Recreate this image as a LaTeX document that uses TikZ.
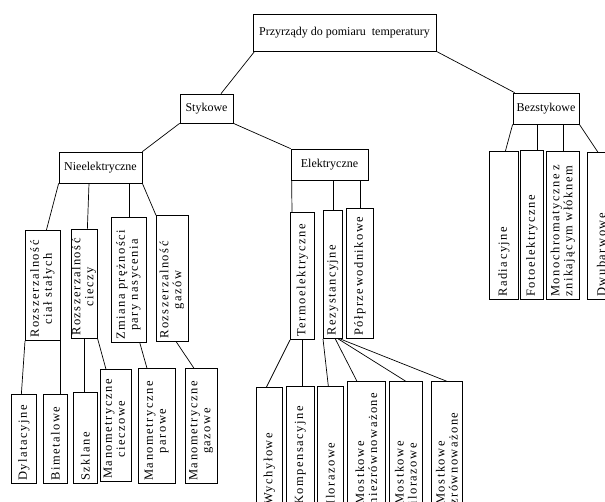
\documentclass[tikz,border=0pt]{standalone}
\usepackage{fontspec}
\setmainfont{Liberation Serif}
\newfontfamily\pionfont[LetterSpace=12]{Liberation Serif}
\newcommand{\dwa}[2]{\begin{tabular}{@{}c@{}}#1\\#2\end{tabular}}
\newcommand{\odst}{\hspace{4pt}}

\begin{document}
\begin{tikzpicture}[x=1pt, y=-1pt, line width=0.7pt,
  poz/.style 2 args={draw, minimum width=#1, minimum height=#2, inner sep=0pt,
    font=\fontsize{12}{14}\selectfont},
  pion/.style 2 args={draw, rotate=90, anchor=north west, text width=#1pt-6pt,
    minimum height=#2pt, inner xsep=3pt, inner ysep=0pt, align=left,
    font=\pionfont\fontsize{12.5}{13}\selectfont}]
  \useasboundingbox (0,0) rectangle (605,502);
  \clip (0,0) rectangle (605,502);

  \node[poz={183pt}{37pt}] (przyrz) at (344.5,32.5) {Przyrządy do pomiaru\ \ temperatury};
  \node[poz={53pt}{29pt}] (styk) at (206.5,108.5) {Stykowe};
  \node[poz={66pt}{31pt}] (bezst) at (546,108.5) {Bezstykowe};
  \node[poz={83pt}{31pt}] (nieel) at (100.5,167.5) {Nieelektryczne};
  \node[poz={77pt}{31pt}] (elek) at (329.5,164.5) {Elektryczne};

  \node[pion={110}{35}] (cs) at (25,341) {\dwa{Rozszerzalność}{ciał\odst stałych}};
  \node[pion={109}{26}] (ciecz) at (71,339) {\dwa{Rozszerzalność}{cieczy}};
  \node[pion={125}{35}] (zmiana) at (111,343) {\dwa{Zmiana\odst prężności}{pary\odst nasycenia}};
  \node[pion={126}{32}] (gazy) at (156,342) {\dwa{Rozszerzalność}{gazów}};

  \node[pion={89}{25}] (dylat) at (11,484) {Dylatacyjne};
  \node[pion={89}{24}] (bimet) at (43,484) {Bimetalowe};
  \node[pion={91}{24}] (szkl) at (73,484) {Szklane};
  \node[pion={112}{31}] (mciecz) at (100,482) {\dwa{Manometryczne}{cieczowe}};
  \node[pion={115}{37}] (mpar) at (138,484) {\dwa{Manometryczne}{parowe}};
  \node[pion={115}{32}] (mgaz) at (185,484) {\dwa{Manometryczne}{gazowe}};

  \node[pion={127}{24}] (termo) at (290,340) {Termoelektryczne};
  \node[pion={128}{19}] (rezyst) at (323,339) {Rezystancyjne};
  \node[pion={130}{27}] (polprz) at (346,339) {Półprzewodnikowe};

  \node[pion={120}{26}] (wych) at (256,508) {Wychyłowe};
  \node[pion={121}{28}] (komp) at (286,508) {Kompensacyjne};
  \node[pion={121}{26}] (iloraz) at (317,508) {Ilorazowe};
  \node[pion={126}{38}] (mniezr) at (347,508) {Mostkowe\\niezrównoważone};
  \node[pion={126}{33}] (milor) at (389,508) {Mostkowe\\ilorazowe};
  \node[pion={126}{31}] (mzr) at (431,508) {Mostkowe\\zrównoważone};

  \node[pion={148}{29}] (radiac) at (489,300) {Radiacyjne};
  \node[pion={149}{23}] (foto) at (520,300) {Fotoelektryczne};
  \node[pion={148}{33}] (mono) at (546,300) {Monochromatyczne\odst z\\znikającym\odst włóknem};
  \node[pion={147}{28}] (dwub) at (587,300) {Dwubarwowe};

  \draw ([xshift=2pt]przyrz.south west) -- ([xshift=14.5pt]styk.north);
  \draw (przyrz.south east) -- ([xshift=2pt]bezst.north west);
  \draw (styk.south west) -- (nieel.north east);
  \draw (styk.south east) -- (elek.north west);

  \draw (nieel.south west) -- ([xshift=3.5pt]cs.east);
  \draw ([xshift=-11.5pt]nieel.south) -- ([xshift=3pt]ciecz.east);
  \draw (nieel.south -| zmiana.east) -- (zmiana.east);
  \draw (nieel.south east) -- (gazy.north east);

  \draw (cs.north west) -- ([xshift=-2.5pt]dylat.east);
  \draw (cs.south west) -- (cs.south west |- bimet.east);
  \draw (ciecz.west) -- (ciecz.west |- szkl.east);
  \draw (ciecz.south west) -- ([xshift=6pt]mciecz.north east);
  \draw ([xshift=11pt]zmiana.west) -- ([xshift=9pt]mpar.north east);
  \draw ([xshift=4pt]gazy.west) -- ([xshift=9pt]mgaz.north east);

  \draw ([xshift=1pt]elek.south west) -- ([xshift=2pt]termo.north east);
  \draw (elek.south -| rezyst.east) -- (rezyst.east);
  \draw (elek.south -| polprz.east) -- (polprz.east);
  \draw (termo.north west) -- ([xshift=-3pt]wych.east);
  \draw (termo.west) -- (termo.west |- komp.east);
  \draw (rezyst.north west) -- ([xshift=-2pt]iloraz.east);
  \draw ([xshift=2.5pt]rezyst.west) -- ([xshift=10pt]mniezr.north east);
  \draw ([xshift=5.5pt]rezyst.west) -- (milor.east);
  \draw ([xshift=7.5pt]rezyst.west) -- (mzr.east);

  \draw (bezst.south west) -- ([xshift=1.5pt]radiac.east);
  \draw ([xshift=-6pt]foto.south east) -- ([xshift=-6pt]foto.south east |- bezst.south);
  \draw (bezst.south -| mono.east) -- (mono.east);
  \draw (bezst.south east) -- ([xshift=11pt]dwub.north east);
\end{tikzpicture}
\end{document}
